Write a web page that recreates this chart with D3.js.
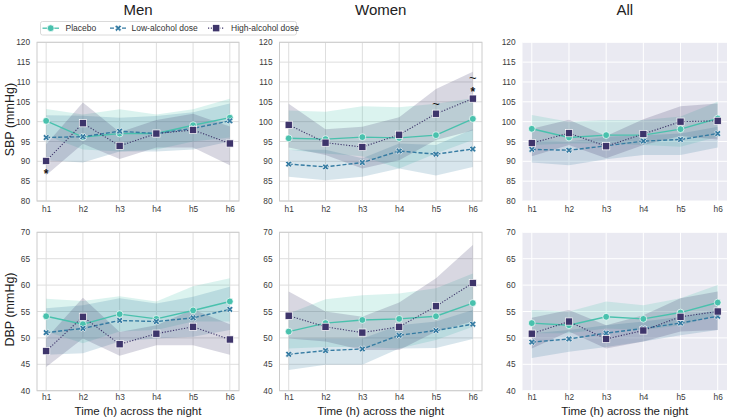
<!DOCTYPE html>
<html><head><meta charset="utf-8">
<script src="https://cdn.jsdelivr.net/npm/d3@7"></script>
<style>body{margin:0;background:#fff;}svg{display:block;font-family:"Liberation Sans",Arial,sans-serif;}</style>
</head><body><svg id="c" width="729" height="419"></svg>
<script>
const hours = ["h1","h2","h3","h4","h5","h6"];
const groups = ["Placebo","Low-alcohol dose","High-alcohol dose"];
const colors = ["#49c1ad","#357ba2","#3e356b"];
const colTitles = ["Men","Women","All"];
const sbpTicks = [80,85,90,95,100,105,110,115,120];
const dbpTicks = [40,45,50,55,60,65,70];

// SBP means [placebo, low, high]
const sbpMenMean = [[100.2,96.1,97.0,97.0,99.1,101.0],[96.0,96.2,97.6,97.0,98.3,100.2],[90.1,99.6,93.9,97.0,97.9,94.5]];
const sbpMenLo   = [[96.5,93.0,92.5,93.0,95.0,96.0],[90.3,89.7,92.5,92.5,93.0,95.0],[86.5,94.4,90.6,93.5,93.5,89.0]];
const sbpMenHi   = [[103.2,101.8,103.1,101.8,103.1,105.8],[101.6,101.5,101.0,101.4,102.4,104.6],[94.3,104.8,97.3,100.4,102.0,98.8]];
const sbpWomenMean = [[95.8,95.6,96.1,95.9,96.6,100.7],[89.3,88.6,89.7,92.6,91.8,93.1],[99.2,94.7,93.6,96.7,102.0,105.8]];
const sbpWomenLo   = [[92.9,92.0,91.3,88.2,92.0,95.4],[86.1,85.2,86.1,88.2,86.4,88.6],[93.5,91.6,88.2,90.3,95.4,97.8]];
const sbpWomenHi   = [[102.8,102.5,103.9,103.6,104.5,105.9],[92.9,92.9,90.8,94.5,94.1,98.1],[104.5,98.1,98.7,101.1,108.2,112.6]];
const sbpAllMean = [[98.2,96.0,96.6,96.6,98.1,100.8],[93.0,92.8,93.9,95.1,95.5,97.0],[94.6,97.1,93.8,96.9,100.0,100.2]];
const sbpAllLo   = [[94.1,94.5,94.5,94.1,93.7,96.2],[89.7,89.0,90.5,91.6,91.6,93.5],[91.3,94.1,90.8,94.1,96.4,95.5]];
const sbpAllHi   = [[101.7,100.0,100.4,100.4,101.3,105.0],[95.4,95.0,96.2,96.6,97.0,98.7],[98.2,100.5,96.4,100.6,103.9,104.6]];

// DBP means [placebo, low, high]
const dbpMenMean = [[54.1,52.6,54.5,53.6,55.2,56.9],[51.0,51.8,53.3,53.1,53.8,55.4],[47.5,54.0,48.8,50.8,52.1,49.7]];
const dbpMenLo   = [[51.2,49.0,51.2,51.5,53.1,53.1],[46.8,47.1,49.3,49.9,50.2,51.5],[44.5,49.9,46.6,48.6,48.6,46.8]];
const dbpMenHi   = [[57.4,57.0,57.9,56.9,59.8,61.3],[55.6,56.2,57.5,56.5,57.8,59.7],[49.9,57.6,51.1,52.4,55.4,52.6]];
const dbpWomenMean = [[51.2,52.8,53.4,53.6,54.1,56.6],[46.9,47.6,47.9,50.5,51.4,52.6],[54.2,52.1,51.0,52.1,56.0,60.4]];
const dbpWomenLo   = [[48.0,48.3,48.3,48.0,49.6,52.1],[43.9,44.9,44.9,48.0,48.1,49.8],[49.9,49.3,47.7,47.7,51.2,53.1]];
const dbpWomenHi   = [[54.6,57.3,58.1,58.4,59.4,62.2],[49.9,49.9,49.9,52.4,53.1,55.3],[58.8,55.0,54.0,56.7,61.3,67.6]];
const dbpAllMean = [[52.8,52.4,54.0,53.6,54.8,56.7],[49.2,49.8,50.9,51.8,52.8,54.1],[50.8,53.1,49.8,51.4,54.0,55.0]];
const dbpAllLo   = [[50.9,50.9,51.8,51.5,52.4,54.3],[46.2,47.4,48.3,49.3,50.5,51.5],[48.0,51.2,48.0,49.3,51.2,51.5]];
const dbpAllHi   = [[55.3,55.0,56.9,56.2,57.5,60.0],[50.9,51.5,52.4,53.1,54.0,55.3],[53.8,55.3,52.4,54.3,57.5,58.8]];

// significance marks: [row, col, hour, value, symbol]
const marks = [[0,0,"h1",87.6,"*"],[0,1,"h5",104.3,"~"],[0,1,"h6",111.0,"~"],[0,1,"h6",108.2,"*"]];

const panels = [
  [[sbpMenMean,sbpMenLo,sbpMenHi],[sbpWomenMean,sbpWomenLo,sbpWomenHi],[sbpAllMean,sbpAllLo,sbpAllHi]],
  [[dbpMenMean,dbpMenLo,dbpMenHi],[dbpWomenMean,dbpWomenLo,dbpWomenHi],[dbpAllMean,dbpAllLo,dbpAllHi]]
];

const svg = d3.select("#c");
const cols = [{x0:37,x1:239},{x0:279.5,x1:482},{x0:522.5,x1:727}];
const rows = [{y0:42.3,y1:201,dom:[80,120],ticks:sbpTicks,label:"SBP (mmHg)"},
              {y0:232.3,y1:390.7,dom:[40,70],ticks:dbpTicks,label:"DBP (mmHg)"}];
const dashes = [null,"4,2","1.2,1.6"];

function marker(g, gi, x, y, c){
  if(gi===0){
    g.append("circle").attr("cx",x).attr("cy",y).attr("r",3.4).attr("fill",c).attr("stroke","#fff").attr("stroke-width",0.7);
  } else if(gi===1){
    g.append("path").attr("d",d3.symbol(d3.symbolCross,26)()).attr("transform",`translate(${x},${y}) rotate(45)`)
      .attr("fill",c).attr("stroke","#fff").attr("stroke-width",0.6);
  } else {
    g.append("rect").attr("x",x-3.6).attr("y",y-3.6).attr("width",7.2).attr("height",7.2).attr("fill",c).attr("stroke","#fff").attr("stroke-width",0.7);
  }
}

rows.forEach((r,ri)=>{
  cols.forEach((cl,ci)=>{
    const g = svg.append("g");
    const x = d3.scalePoint().domain(hours).range([cl.x0,cl.x1]).padding(0.25);
    const y = d3.scaleLinear().domain(r.dom).range([r.y1,r.y0]);
    const dark = ci===2;
    if(dark) g.append("rect").attr("x",cl.x0).attr("y",r.y0).attr("width",cl.x1-cl.x0).attr("height",r.y1-r.y0).attr("fill","#eaeaf2");
    const gridC = dark ? "#ffffff" : "#dedede";
    g.append("g").selectAll("line").data(r.ticks).join("line")
      .attr("x1",cl.x0).attr("x2",cl.x1).attr("y1",d=>y(d)).attr("y2",d=>y(d)).attr("stroke",gridC).attr("stroke-width",1);
    g.append("g").selectAll("line").data(hours).join("line")
      .attr("x1",d=>x(d)).attr("x2",d=>x(d)).attr("y1",r.y0).attr("y2",r.y1).attr("stroke",gridC).attr("stroke-width",1);
    if(!dark) g.append("rect").attr("x",cl.x0).attr("y",r.y0).attr("width",cl.x1-cl.x0).attr("height",r.y1-r.y0)
      .attr("fill","none").attr("stroke","#cccccc").attr("stroke-width",1);

    const [means,los,his] = panels[ri][ci];
    groups.forEach((gn,gi)=>{
      const area = d3.area().x((d,i)=>x(hours[i])).y0((d,i)=>y(los[gi][i])).y1((d,i)=>y(his[gi][i]));
      g.append("path").attr("d",area(means[gi])).attr("fill",colors[gi]).attr("fill-opacity",0.2);
    });
    groups.forEach((gn,gi)=>{
      const line = d3.line().x((d,i)=>x(hours[i])).y(d=>y(d));
      g.append("path").attr("d",line(means[gi])).attr("fill","none").attr("stroke",colors[gi])
        .attr("stroke-width",gi===2?1.1:1.4).attr("stroke-dasharray",dashes[gi]);
      means[gi].forEach((v,i)=>marker(g,gi,x(hours[i]),y(v),colors[gi]));
    });

    const ya = g.append("g").attr("transform",`translate(${cl.x0},0)`)
      .call(d3.axisLeft(y).tickValues(r.ticks).tickSize(0).tickPadding(7));
    ya.select(".domain").remove();
    ya.selectAll("text").attr("font-size",8.3).attr("fill","#3a3a3a").attr("font-family","Liberation Sans, Arial, sans-serif");
    const xa = g.append("g").attr("transform",`translate(0,${r.y1})`)
      .call(d3.axisBottom(x).tickSize(0).tickPadding(ri===0?5:3));
    xa.select(".domain").remove();
    xa.selectAll("text").attr("font-size",8.3).attr("fill","#3a3a3a").attr("font-family","Liberation Sans, Arial, sans-serif");

    if(ci===0){
      svg.append("text").attr("transform",`translate(14,${(r.y0+r.y1)/2-2}) rotate(-90)`).attr("text-anchor","middle")
        .attr("font-size",12.5).attr("fill","#222").text(r.label);
    }
    if(ri===0){
      svg.append("text").attr("x",(cl.x0+cl.x1)/2).attr("y",15).attr("text-anchor","middle")
        .attr("font-size",15).attr("fill","#222").text(colTitles[ci]);
    } else {
      svg.append("text").attr("x",(cl.x0+cl.x1)/2).attr("y",415).attr("text-anchor","middle")
        .attr("font-size",11.5).attr("fill","#222").text("Time (h) across the night");
    }
    marks.filter(m=>m[0]===ri&&m[1]===ci).forEach(m=>{
      const star = m[4]==="*";
      svg.append("text").attr("x",x(m[2])).attr("y",y(m[3])).attr("text-anchor","middle")
        .attr("font-size",star?12:13).attr("font-weight",star?"bold":"normal").attr("fill","#111")
        .attr("dy",star?"0.6em":"0.3em").text(m[4]);
    });
  });
});

// legend
const lg = svg.append("g");
lg.append("rect").attr("x",40.5).attr("y",21.5).attr("width",256).attr("height",13.5).attr("rx",2)
  .attr("fill","#fff").attr("stroke","#d0d0d0").attr("stroke-width",0.8);
const legX = [42.5,110,208];
const legTX = [65.5,131.5,231];
groups.forEach((gn,gi)=>{
  lg.append("line").attr("x1",legX[gi]).attr("x2",legX[gi]+16.5).attr("y1",28.2).attr("y2",28.2)
    .attr("stroke",colors[gi]).attr("stroke-width",1.3).attr("stroke-dasharray",dashes[gi]);
  marker(lg,gi,legX[gi]+8.2,28.2,colors[gi]);
  lg.append("text").attr("x",legTX[gi]).attr("y",31).attr("font-size",8.5).attr("fill","#333").text(gn);
});
</script></body></html>
